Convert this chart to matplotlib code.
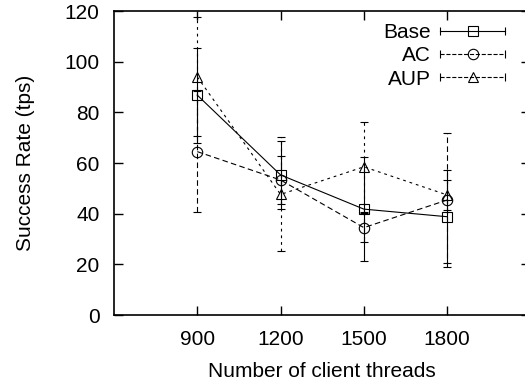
import numpy as np
import matplotlib
matplotlib.use("Agg")
import matplotlib.pyplot as plt
from matplotlib.lines import Line2D
from matplotlib.legend_handler import HandlerBase
from matplotlib.container import ErrorbarContainer

# データ
threads = [900, 1200, 1500, 1800]

base_mean = [86.8, 55.3, 41.8, 38.8]
base_err = [18.7, 13.5, 20.5, 18.4]

ac_mean = [64.5, 53.3, 34.5, 45.4]
ac_err = [24.0, 9.5, 5.8, 26.6]

aup_mean = [94.0, 47.6, 58.5, 47.4]
aup_err = [23.5, 22.5, 17.8, 5.9]

plt.rcParams['font.family'] = ['Liberation Sans', 'DejaVu Sans']
FS = 15


class CapLineHandler(HandlerBase):
    """gnuplot風の凡例：横線＋両端キャップ＋中央マーカー"""
    def create_artists(self, legend, orig_handle, xdescent, ydescent,
                       width, height, fontsize, trans):
        src = orig_handle.lines[0]
        y = height / 2 - ydescent
        x0, x1 = -xdescent, width - xdescent
        line = Line2D([x0, x1], [y, y], color='black', lw=src.get_linewidth(),
                      linestyle=src.get_linestyle())
        caps = Line2D([x0, x1], [y, y], linestyle='none', marker='|',
                      markersize=6, markeredgewidth=0.8, color='black')
        mark = Line2D([(x0 + x1) / 2], [y], linestyle='none',
                      marker=src.get_marker(), markersize=src.get_markersize(),
                      markerfacecolor='none', markeredgecolor='black',
                      markeredgewidth=src.get_markeredgewidth())
        for a in (line, caps, mark):
            a.set_transform(trans)
        return [line, caps, mark]


fig = plt.figure(figsize=(5.25, 3.83), dpi=100)
ax = fig.add_axes([0.2171, 0.1775, 0.7933, 0.7937])

series = [
    ('Base', base_mean, base_err, 's', '-'),
    ('AC', ac_mean, ac_err, 'o', (0, (5, 3))),
    ('AUP', aup_mean, aup_err, '^', (0, (2.5, 3.5))),
]

for label, mean, err, marker, ls in series:
    cont = ax.errorbar(threads, mean, yerr=err, color='black', lw=0.8,
                       linestyle=ls, marker=marker, markersize=7.5,
                       markerfacecolor='none', markeredgewidth=0.8,
                       capsize=3.2, capthick=0.8, elinewidth=0.8, label=label)
    cont.lines[2][0].set_linestyle(ls)

ax.set_xlim(600, 2100)
ax.set_ylim(0, 120)
ax.set_xticks(threads)
ax.set_yticks(np.arange(0, 121, 20))
ax.tick_params(direction='in', length=6.5, width=1.0, top=True, right=True,
               labelsize=FS)
ax.tick_params(axis='x', pad=11)
ax.tick_params(axis='y', pad=10.5)
for s in ax.spines.values():
    s.set_linewidth(1.2)

ax.set_xlabel('Number of client threads', fontsize=FS, labelpad=9)
ax.set_ylabel('Success Rate (tps)', fontsize=FS, labelpad=21)

handles, labels = ax.get_legend_handles_labels()
ax.legend(handles, labels, loc='upper right', bbox_to_anchor=(0.939, 0.960),
          frameon=False, markerfirst=False, fontsize=FS, borderpad=0,
          borderaxespad=0, handlelength=3.1, handletextpad=0.48,
          labelspacing=0.2,
          handler_map={ErrorbarContainer: CapLineHandler()})

fig.savefig('out.png', dpi=100)
